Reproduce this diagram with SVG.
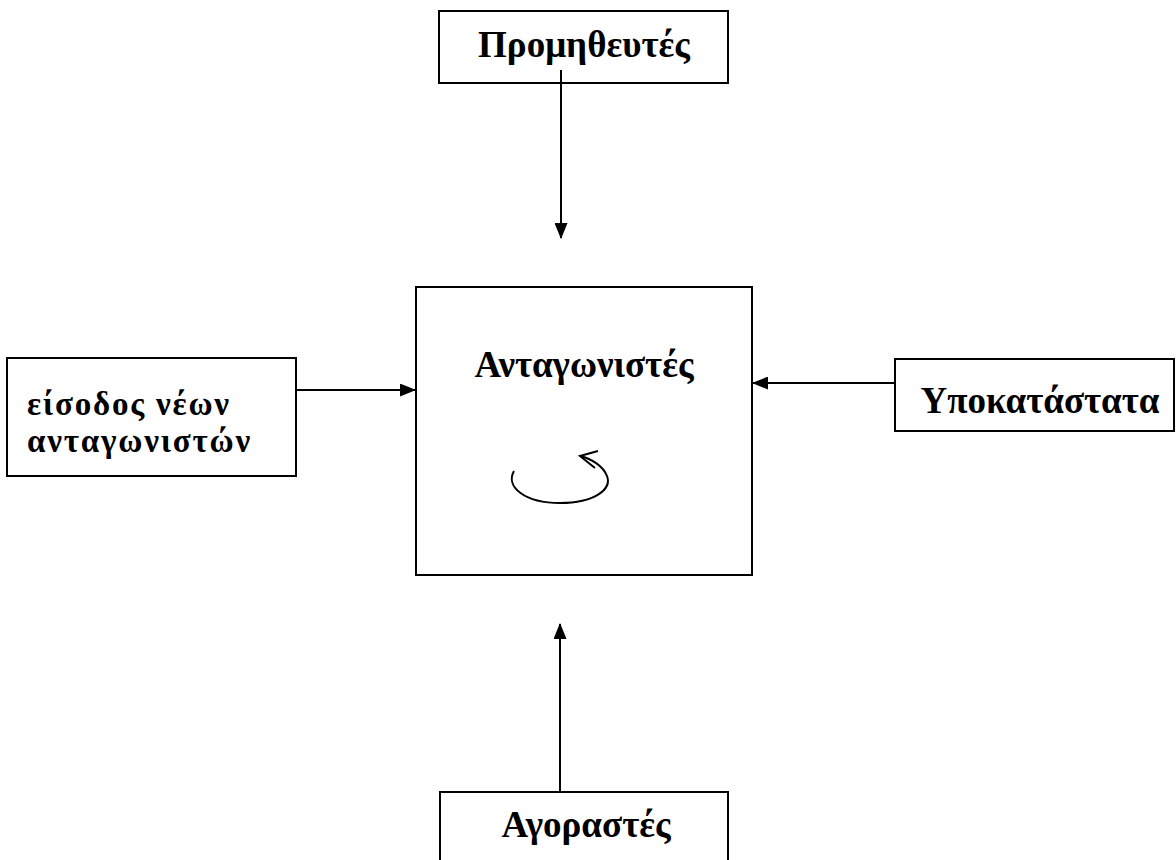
<svg xmlns="http://www.w3.org/2000/svg" width="1176" height="860" viewBox="0 0 1176 860">
<style>
.box{fill:#fff;stroke:#000;stroke-width:2}
.t{font-family:"Liberation Serif","Times New Roman",serif;font-weight:bold;font-size:37px;fill:#000}
.t2{font-size:33px;letter-spacing:1.8px}
.c{stroke:#000;stroke-width:2;fill:none}
</style>
<defs>
<marker id="ah" markerWidth="16" markerHeight="13" refX="15" refY="6.5" orient="auto" markerUnits="userSpaceOnUse">
<path d="M0,0 L16,6.5 L0,13 Z" fill="#000"/>
</marker>
</defs>
<rect width="1176" height="860" fill="#fff"/>
<g id="promitheutes">
<rect class="box" x="439" y="11" width="289" height="72"/>
<text class="t" x="584" y="57" text-anchor="middle">Προμηθευτές</text>
</g>
<g id="antagonistes">
<rect class="box" x="416" y="287" width="336" height="288"/>
<text class="t" x="584" y="377" text-anchor="middle">Ανταγωνιστές</text>
<path class="c" d="M514,471 C505,487 525,503 560,503 C595,503 612,489 607,476 C603,466 592,459 580,456"/>
<path class="c" d="M598,451 L580,456 L595,468"/>
</g>
<g id="eisodos">
<rect class="box" x="7" y="358" width="289" height="118"/>
<text class="t t2" x="27" y="415">είσοδος νέων</text>
<text class="t t2" x="27" y="452">ανταγωνιστών</text>
</g>
<g id="ypokatastata">
<rect class="box" x="895" y="359" width="279" height="72"/>
<text class="t" x="1040" y="413" text-anchor="middle">Υποκατάστατα</text>
</g>
<g id="agorastes">
<rect class="box" x="440" y="792" width="288" height="80"/>
<text class="t" x="586" y="837" text-anchor="middle">Αγοραστές</text>
</g>
<g id="connectors">
<line class="c" x1="561" y1="70" x2="561" y2="238" marker-end="url(#ah)"/>
<line class="c" x1="296" y1="390" x2="415" y2="390" marker-end="url(#ah)"/>
<line class="c" x1="895" y1="383" x2="753" y2="383" marker-end="url(#ah)"/>
<line class="c" x1="560" y1="792" x2="560" y2="624" marker-end="url(#ah)"/>
</g>
</svg>
